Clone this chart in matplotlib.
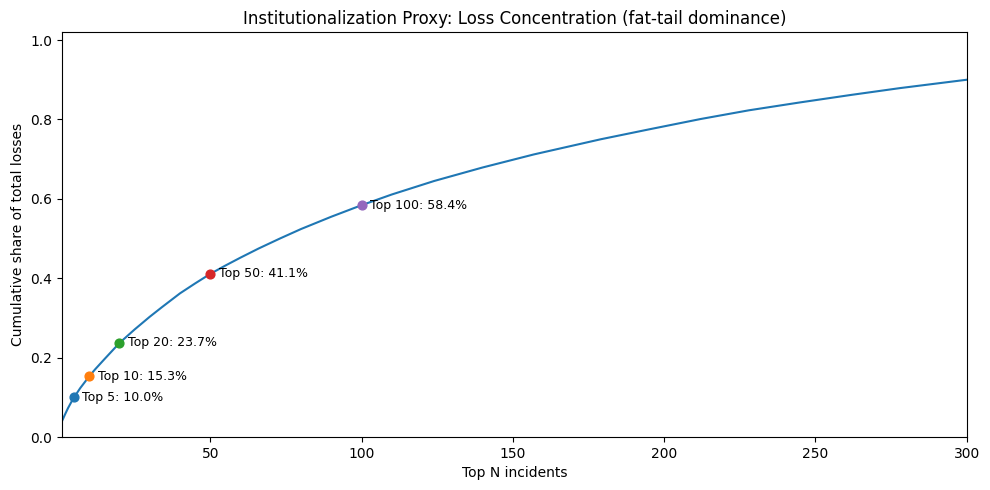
import matplotlib
matplotlib.use("Agg")
import matplotlib.pyplot as plt

# Cumulative share curve
top_n = [1, 2, 3, 4, 5, 7, 10, 12, 15, 20, 25, 30, 34, 40, 45, 50, 55, 60,
         66, 73, 80, 90, 100, 110, 124, 140, 157, 179, 195, 212, 228, 245,
         262, 278, 300]
cum_share = [0.040, 0.057, 0.073, 0.087, 0.100, 0.123, 0.153, 0.171, 0.196,
             0.237, 0.271, 0.303, 0.327, 0.362, 0.387, 0.411, 0.432, 0.452,
             0.475, 0.500, 0.524, 0.555, 0.584, 0.611, 0.645, 0.679, 0.712,
             0.750, 0.775, 0.801, 0.823, 0.843, 0.862, 0.879, 0.900]

# Highlighted points
mark_n = [5, 10, 20, 50, 100]
mark_share = [0.100, 0.153, 0.237, 0.411, 0.584]
mark_colors = ["#1f77b4", "#ff7f0e", "#2ca02c", "#d62728", "#9467bd"]

fig, ax = plt.subplots(figsize=(9.9, 4.9), dpi=100)
fig.subplots_adjust(left=0.0626, right=0.9765, top=0.9345, bottom=0.108)
ax.plot(top_n, cum_share, color="#1f77b4", lw=1.5)
for n, s, c in zip(mark_n, mark_share, mark_colors):
    ax.scatter([n], [s], color=c, s=40, zorder=3)
    ax.annotate(f"Top {n}: {s*100:.1f}%", (n, s), xytext=(6, 0),
                textcoords="offset points", va="center", fontsize=9)

ax.set_xlim(1, 300)
ax.set_ylim(0, 1.02)
ax.set_title("Institutionalization Proxy: Loss Concentration (fat-tail dominance)")
ax.set_xlabel("Top N incidents")
ax.set_ylabel("Cumulative share of total losses")
fig.savefig("out.png")
